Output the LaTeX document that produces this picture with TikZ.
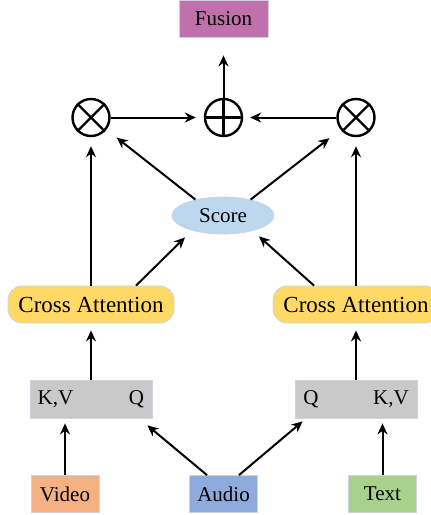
\documentclass[tikz,border=0pt]{standalone}
\usepackage{fontspec}
\setmainfont{Liberation Serif}
\usetikzlibrary{shapes, arrows, arrows.meta}

\definecolor{fusionpink}{RGB}{192,112,170}
\definecolor{scoreblue}{RGB}{189,215,238}
\definecolor{attnyellow}{RGB}{255,217,102}
\definecolor{keygray}{RGB}{201,201,201}
\definecolor{videoorange}{RGB}{244,177,131}
\definecolor{audioblue}{RGB}{143,170,220}
\definecolor{textgreen}{RGB}{169,209,142}
\definecolor{edgegray}{RGB}{205,212,222}

\begin{document}
\begin{tikzpicture}[x=0.5pt, y=-0.5pt, font=\fontsize{10.5}{13}\selectfont]

\tikzstyle{block} = [rectangle, draw=edgegray, text centered, inner sep=2pt, minimum height=18.5pt]
\tikzstyle{modal} = [block, minimum width=34pt]
\tikzstyle{attn} = [block, fill=attnyellow, rounded corners=7pt, minimum width=83pt, font=\fontsize{11.5}{14}\selectfont]
\tikzstyle{keys} = [block, fill=keygray, minimum width=61pt, minimum height=19pt]
\tikzstyle{op} = [circle, draw, line width=1.2pt, minimum size=18.5pt, inner sep=0pt]
\tikzstyle{arrow} = [line width=1pt,->,>={Stealth[length=5.5pt,width=5pt]}]

\useasboundingbox (0,0) rectangle (431,515);

\node (fusion) [block, fill=fusionpink, minimum width=44.5pt] at (223.5,18.5) {Fusion};

\node (mulL) [op] at (91,117.5) {};
\node (add) [op] at (223.5,117.5) {};
\node (mulR) [op] at (356,117.5) {};
\draw [line width=1.2pt] (mulL.north west) -- (mulL.south east) (mulL.north east) -- (mulL.south west);
\draw [line width=1.2pt] (mulR.north west) -- (mulR.south east) (mulR.north east) -- (mulR.south west);
\draw [line width=1.2pt] (add.north) -- (add.south) (add.west) -- (add.east);

\node (score) [ellipse, draw=edgegray, fill=scoreblue, minimum width=51pt, minimum height=18.5pt, inner sep=0pt] at (223,215.5) {Score};

\node (caL) [attn] at (91,304.5) {Cross Attention};
\node (caR) [attn] at (356,304.5) {Cross Attention};

\node (kvL) [keys] at (91,399) {};
\node (kL) at (55.5,399) {K,V};
\node (qL) at (136.5,399) {Q};
\node (kvR) [keys] at (356,399) {};
\node (qR) at (311,399) {Q};
\node (kR) at (391,399) {K,V};

\node (video) [modal, fill=videoorange] at (65,494) {Video};
\node (audio) [modal, fill=audioblue] at (223.5,494) {Audio};
\node (txt) [modal, fill=textgreen] at (382.5,494) {Text};

\draw [arrow, shorten >=9pt] (add) -- (fusion);
\draw [arrow, shorten >=4pt] (mulL) -- (add);
\draw [arrow, shorten >=3.5pt] (mulR) -- (add);
\draw [arrow, shorten >=6.5pt] (score.150) -- (mulL);
\draw [arrow, shorten >=7pt] (score.30) -- (mulR);
\draw [arrow, shorten >=4.5pt] (caL) -- (mulL);
\draw [arrow, shorten >=4.5pt] (caR) -- (mulR);
\draw [arrow] ([xshift=22.5pt]caL.north) -- ([xshift=-19pt,yshift=-1.5pt]score.south);
\draw [arrow] ([xshift=-21pt]caR.north) -- ([xshift=18pt,yshift=-1pt]score.south);
\draw [arrow, shorten >=3.5pt] (kvL) -- (caL);
\draw [arrow, shorten >=3.5pt] (kvR) -- (caR);
\draw [arrow, shorten >=2.5pt] (video) -- (video |- kvL.south);
\draw [arrow, shorten >=2.5pt] (txt) -- (txt |- kvR.south);
\draw [arrow] ([xshift=-8.25pt]audio.north) -- ([xshift=-2.5pt,yshift=-3.5pt]kvL.south east);
\draw [arrow] ([xshift=7.75pt]audio.north) -- ([xshift=4pt,yshift=-1.5pt]kvR.south west);

\end{tikzpicture}
\end{document}
